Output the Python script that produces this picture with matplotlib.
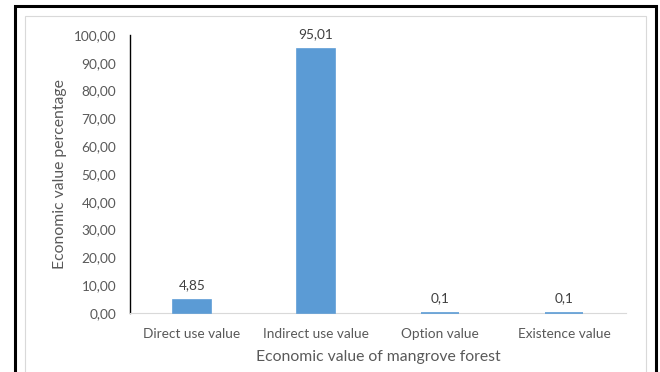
import matplotlib
matplotlib.use("Agg")
import matplotlib.pyplot as plt
from matplotlib.patches import Rectangle

categories = ["Direct use value", "Indirect use value", "Option value", "Existence value"]
values = [4.85, 95.01, 0.1, 0.1]
labels = ["4,85", "95,01", "0,1", "0,1"]
yticks = [0, 10, 20, 30, 40, 50, 60, 70, 80, 90, 100]

plt.rcParams['font.family'] = ['Lato', 'DejaVu Sans']
W, H = 660, 372
fig = plt.figure(figsize=(W/100, H/100), dpi=100)

# outer black border and inner grey border
fig.patches.append(Rectangle((15/W, -0.05), (656-15)/W, 1.05 - 6/H, transform=fig.transFigure,
                             fill=False, edgecolor='black', linewidth=2.2))
fig.patches.append(Rectangle((25/W, -0.05), (646-25)/W, 1.05 - 16/H, transform=fig.transFigure,
                             fill=False, edgecolor='#D9D9D9', linewidth=0.8))

x0, x1 = 130, 626
y0, y1 = 313, 35
ax = fig.add_axes([x0/W, 1 - y0/H, (x1-x0)/W, (y0-y1)/H])
pos = list(range(len(categories)))
bars = ax.bar(pos, values, width=0.31, color='#5B9BD5', edgecolor='#5B9BD5', linewidth=1.2,
              zorder=3, clip_on=False)
ax.set_xlim(-0.5, len(categories)-0.5)
ax.set_ylim(0, 100)
ax.set_yticks(yticks)
ax.set_yticklabels([f"{v:.2f}".replace('.', ',') for v in yticks], fontsize=9.8, color='#595959')
ax.set_xticks(pos)
ax.set_xticklabels(categories, fontsize=9.8, color='#595959')
ax.tick_params(axis='both', length=0)
ax.tick_params(axis='y', pad=10)
ax.tick_params(axis='x', pad=11)
for s in ['top', 'right']:
    ax.spines[s].set_visible(False)
ax.spines['left'].set_color('black')
ax.spines['left'].set_linewidth(1.0)
ax.spines['bottom'].set_color('#D9D9D9')
ax.spines['bottom'].set_linewidth(0.8)
for p, v, l in zip(pos, values, labels):
    ax.annotate(l, (p, v), xytext=(0, 6), textcoords='offset points', ha='center', va='bottom',
                fontsize=9.8, color='#404040')
ax.set_ylabel("Economic value percentage", fontsize=11.3, color='#595959', labelpad=5)
ax.set_xlabel("Economic value of mangrove forest", fontsize=11.3, color='#595959', labelpad=7)
fig.savefig("out.png", dpi=100)
